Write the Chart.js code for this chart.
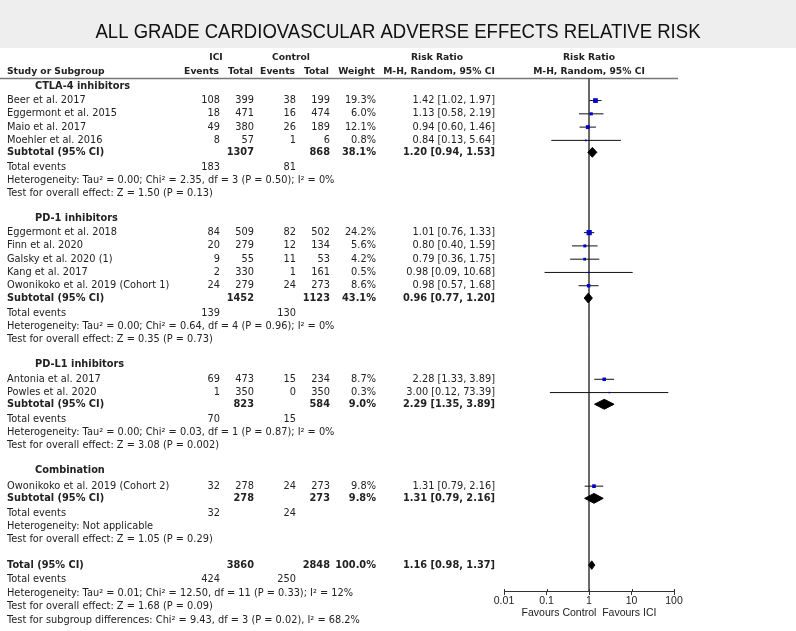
<!DOCTYPE html>
<html>
<head>
<meta charset="utf-8">
<script src="https://cdn.jsdelivr.net/npm/chart.js@4.4.1/dist/chart.umd.min.js"></script>
<style>
  body { margin: 0; background: #fff; }
  canvas { display: block; }
</style>
</head>
<body>
<canvas id="forest" width="796" height="631"></canvas>
<script>
// study level data
const studyNames = ["Beer et al. 2017", "Eggermont et al. 2015", "Maio et al. 2017", "Moehler et al. 2016",
  "Eggermont et al. 2018", "Finn et al. 2020", "Galsky et al. 2020 (1)", "Kang et al. 2017", "Owonikoko et al. 2019 (Cohort 1)",
  "Antonia et al. 2017", "Powles et al. 2020",
  "Owonikoko et al. 2019 (Cohort 2)"];
const iciEvents = [108, 18, 49, 8, 84, 20, 9, 2, 24, 69, 1, 32];
const iciTotal = [399, 471, 380, 57, 509, 279, 55, 330, 279, 473, 350, 278];
const ctrlEvents = [38, 16, 26, 1, 82, 12, 11, 1, 24, 15, 0, 24];
const ctrlTotal = [199, 474, 189, 6, 502, 134, 53, 161, 273, 234, 350, 273];
const studyWeight = [19.3, 6.0, 12.1, 0.8, 24.2, 5.6, 4.2, 0.5, 8.6, 8.7, 0.3, 9.8];
const studyRR = [1.42, 1.13, 0.94, 0.84, 1.01, 0.80, 0.79, 0.98, 0.98, 2.28, 3.00, 1.31];
const studyLo = [1.02, 0.58, 0.60, 0.13, 0.76, 0.40, 0.36, 0.09, 0.57, 1.33, 0.12, 0.79];
const studyHi = [1.97, 2.19, 1.46, 5.64, 1.33, 1.59, 1.75, 10.68, 1.68, 3.89, 73.39, 2.16];
const studyRow = [1, 2, 3, 4, 10.95, 11.95, 12.95, 13.95, 14.95, 22, 23, 30.05];

// subgroup level data
const groupNames = ["CTLA-4 inhibitors", "PD-1 inhibitors", "PD-L1 inhibitors", "Combination"];
const groupRow = [-0.08, 9.85, 20.9, 28.9];
const subIciTotal = [1307, 1452, 823, 278];
const subCtrlTotal = [868, 1123, 584, 273];
const subWeight = [38.1, 43.1, 9.0, 9.8];
const subRR = [1.20, 0.96, 2.29, 1.31];
const subLo = [0.94, 0.77, 1.35, 0.79];
const subHi = [1.53, 1.20, 3.89, 2.16];
const subRow = [4.9, 15.88, 23.88, 30.97];
const subIciEvents = [183, 139, 70, 32];
const subCtrlEvents = [81, 130, 15, 24];
const eventsRow = [6.05, 17.05, 25.05, 32.08];
const hetText = [
  "Heterogeneity: Tau² = 0.00; Chi² = 2.35, df = 3 (P = 0.50); I² = 0%",
  "Heterogeneity: Tau² = 0.00; Chi² = 0.64, df = 4 (P = 0.96); I² = 0%",
  "Heterogeneity: Tau² = 0.00; Chi² = 0.03, df = 1 (P = 0.87); I² = 0%",
  "Heterogeneity: Not applicable"];
const hetRow = [7.0, 18.02, 26.03, 33.08];
const testText = [
  "Test for overall effect: Z = 1.50 (P = 0.13)",
  "Test for overall effect: Z = 0.35 (P = 0.73)",
  "Test for overall effect: Z = 3.08 (P = 0.002)",
  "Test for overall effect: Z = 1.05 (P = 0.29)"];
const testRow = [7.98, 18.98, 27.0, 34.03];

// overall
const totalIci = 3860, totalCtrl = 2848, totalWeight = 100.0;
const totalRR = 1.16, totalLo = 0.98, totalHi = 1.37;
const totalRow = 36;
const totalEvents = [424, 250];
const totalLines = [
  "Heterogeneity: Tau² = 0.01; Chi² = 12.50, df = 11 (P = 0.33); I² = 12%",
  "Test for overall effect: Z = 1.68 (P = 0.09)",
  "Test for subgroup differences: Chi² = 9.43, df = 3 (P = 0.02), I² = 68.2%"];
const totalLineRows = [37.1, 38.1, 39.1, 40.15];

const tickVals = [0.01, 0.1, 1, 10, 100];
const tickLabels = ["0.01", "0.1", "1", "10", "100"];
const yMin = -0.7, yMax = 37.95;

const FONT = '"DejaVu Sans", Verdana, sans-serif';
const AXIS_FONT = '"Liberation Sans", Arial, sans-serif';
Chart.defaults.font.family = AXIS_FONT;
Chart.defaults.color = "#222";

function fmtCI(r, lo, hi) {
  return r.toFixed(2) + " [" + lo.toFixed(2) + ", " + hi.toFixed(2) + "]";
}

// datasets
const datasets = [];
datasets.push({
  type: "scatter",
  data: studyRR.map((r, i) => ({ x: r, y: studyRow[i] })),
  pointStyle: "rect",
  pointRadius: studyWeight.map(w => (1 + 0.85 * Math.sqrt(w)) / Math.SQRT2),
  backgroundColor: "#0000cc",
  borderWidth: 0,
  order: 0,
});
studyRR.forEach((r, i) => {
  datasets.push({
    type: "line",
    data: [{ x: studyLo[i], y: studyRow[i] }, { x: studyHi[i], y: studyRow[i] }],
    borderColor: "#111",
    borderWidth: 1,
    pointRadius: 0,
    order: 1,
  });
});
function diamond(r, lo, hi, row, h) {
  return {
    type: "line",
    data: [{ x: lo, y: row }, { x: r, y: row - h }, { x: hi, y: row }, { x: r, y: row + h }, { x: lo, y: row }],
    borderColor: "#000",
    backgroundColor: "#000",
    borderWidth: 1,
    pointRadius: 0,
    fill: "shape",
    order: 1,
  };
}
subRR.forEach((r, i) => datasets.push(diamond(r, subLo[i], subHi[i], subRow[i], 0.37)));
datasets.push(diamond(totalRR, totalLo, totalHi, totalRow, 0.32));
datasets.push({
  type: "line",
  data: [{ x: 1, y: yMin }, { x: 1, y: yMax }],
  borderColor: "#555",
  borderWidth: 1,
  pointRadius: 0,
  order: 2,
});

const tablePlugin = {
  id: "table",
  beforeDraw(chart) {
    const ctx = chart.ctx;
    ctx.save();
    ctx.fillStyle = "#fff";
    ctx.fillRect(0, 0, chart.width, chart.height);
    ctx.fillStyle = "#eeeeee";
    ctx.fillRect(0, 0, chart.width, 48);
    ctx.fillStyle = "#111";
    ctx.font = '20px "Liberation Sans", Arial, sans-serif';
    ctx.textAlign = "center";
    ctx.textBaseline = "middle";
    ctx.fillText("ALL GRADE CARDIOVASCULAR ADVERSE EFFECTS RELATIVE RISK", 398, 32, 605);
    ctx.strokeStyle = "#777";
    ctx.lineWidth = 1.5;
    ctx.beginPath();
    ctx.moveTo(0, 78.5);
    ctx.lineTo(678, 78.5);
    ctx.stroke();
    ctx.restore();
  },
  afterDraw(chart) {
    const ctx = chart.ctx;
    const x = chart.scales.x;
    const y = chart.scales.y;
    ctx.save();
    // upper half of the axis tick marks
    ctx.strokeStyle = "#333";
    ctx.lineWidth = 1;
    tickVals.forEach(v => {
      const px = Math.round(x.getPixelForValue(v)) + 0.5;
      ctx.beginPath();
      ctx.moveTo(px, x.top - 2);
      ctx.lineTo(px, x.top);
      ctx.stroke();
    });
    ctx.fillStyle = "#222";
    ctx.textBaseline = "middle";
    const t = (s, px, row, align, bold, size) => {
      ctx.font = (bold ? "bold " : "") + (size || 9.8) + "px " + FONT;
      ctx.textAlign = align;
      ctx.fillText(s, px, y.getPixelForValue(row));
    };
    // header
    const h1 = -2.2, h2 = -1.15, hs = 9.2;
    t("ICI", 216, h1, "center", true, hs);
    t("Control", 291, h1, "center", true, hs);
    t("Risk Ratio", 437, h1, "center", true, hs);
    t("Risk Ratio", 589, h1, "center", true, hs);
    t("Study or Subgroup", 7, h2, "left", true, hs);
    t("Events", 219, h2, "right", true, hs);
    t("Total", 253, h2, "right", true, hs);
    t("Events", 295, h2, "right", true, hs);
    t("Total", 329, h2, "right", true, hs);
    t("Weight", 375, h2, "right", true, hs);
    t("M-H, Random, 95% CI", 439, h2, "center", true, hs);
    t("M-H, Random, 95% CI", 589, h2, "center", true, hs);

    studyNames.forEach((n, i) => {
      const r = studyRow[i];
      t(n, 7, r, "left");
      t(String(iciEvents[i]), 220, r, "right");
      t(String(iciTotal[i]), 254, r, "right");
      t(String(ctrlEvents[i]), 296, r, "right");
      t(String(ctrlTotal[i]), 330, r, "right");
      t(studyWeight[i].toFixed(1) + "%", 376, r, "right");
      t(fmtCI(studyRR[i], studyLo[i], studyHi[i]), 495, r, "right");
    });
    groupNames.forEach((g, i) => {
      t(g, 35, groupRow[i], "left", true);
      t("Subtotal (95% CI)", 7, subRow[i], "left", true);
      t(String(subIciTotal[i]), 254, subRow[i], "right", true);
      t(String(subCtrlTotal[i]), 330, subRow[i], "right", true);
      t(subWeight[i].toFixed(1) + "%", 376, subRow[i], "right", true);
      t(fmtCI(subRR[i], subLo[i], subHi[i]), 495, subRow[i], "right", true);
      t("Total events", 7, eventsRow[i], "left");
      t(String(subIciEvents[i]), 220, eventsRow[i], "right");
      t(String(subCtrlEvents[i]), 296, eventsRow[i], "right");
      t(hetText[i], 7, hetRow[i], "left");
      t(testText[i], 7, testRow[i], "left");
    });
    t("Total (95% CI)", 7, totalRow, "left", true);
    t(String(totalIci), 254, totalRow, "right", true);
    t(String(totalCtrl), 330, totalRow, "right", true);
    t(totalWeight.toFixed(1) + "%", 376, totalRow, "right", true);
    t(fmtCI(totalRR, totalLo, totalHi), 495, totalRow, "right", true);
    t("Total events", 7, totalLineRows[0], "left");
    t(String(totalEvents[0]), 220, totalLineRows[0], "right");
    t(String(totalEvents[1]), 296, totalLineRows[0], "right");
    totalLines.forEach((s, i) => t(s, 7, totalLineRows[i + 1], "left"));
    ctx.restore();
  },
};

new Chart(document.getElementById("forest"), {
  type: "scatter",
  data: { datasets: datasets },
  options: {
    responsive: false,
    animation: false,
    layout: { padding: { left: 504, right: 122, top: 78, bottom: 13 } },
    plugins: { legend: { display: false }, tooltip: { enabled: false } },
    scales: {
      x: {
        type: "logarithmic",
        min: 0.01,
        max: 100,
        afterBuildTicks: (s) => { s.ticks = tickVals.map(v => ({ value: v })); },
        ticks: {
          autoSkip: false,
          maxRotation: 0,
          padding: 1,
          font: { size: 10.5, lineHeight: 1 },
          color: "#222",
          callback: (v, i) => tickLabels[i],
        },
        grid: { drawOnChartArea: false, drawTicks: true, tickLength: 4, color: "#333" },
        border: { display: true, color: "#333", width: 1 },
        title: {
          display: true,
          text: "Favours Control  Favours ICI",
          font: { size: 10.5, lineHeight: 1 },
          color: "#222",
          padding: { top: 0, bottom: 0 },
        },
      },
      y: { type: "linear", display: false, reverse: true, min: yMin, max: yMax },
    },
  },
  plugins: [tablePlugin],
});
</script>
</body>
</html>
